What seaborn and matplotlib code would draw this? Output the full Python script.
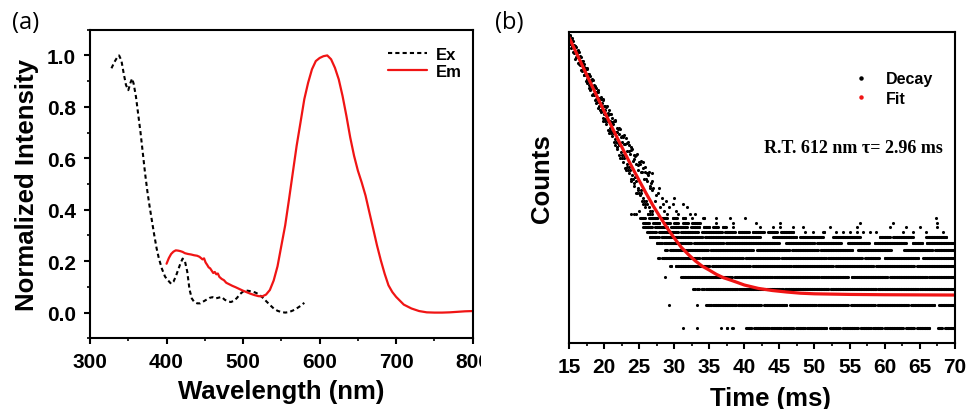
import numpy as np
import pandas as pd
import seaborn as sns
import matplotlib.pyplot as plt
from matplotlib.lines import Line2D
from matplotlib.ticker import MultipleLocator, NullLocator
from matplotlib.transforms import Bbox, TransformedBbox

# ---- (a) excitation / emission spectra ----
ex_nm = [328, 332, 336, 338, 341, 344, 347, 350, 353, 355,
         357, 360, 363, 366, 369, 372, 375, 378, 381, 384,
         387, 390, 394, 398, 402, 406, 409, 412, 415, 418,
         421, 424, 427, 430, 433, 436, 440, 444, 448, 452,
         456, 460, 464, 468, 472, 476, 480, 484, 488, 492,
         496, 500, 504, 508, 512, 516, 520, 525, 530, 535,
         540, 545, 550, 555, 560, 565, 570, 575, 580]
ex_int = [0.95, 0.975, 0.995, 1.0, 0.98, 0.93, 0.885, 0.865, 0.895, 0.91,
          0.89, 0.84, 0.77, 0.70, 0.62, 0.54, 0.47, 0.41, 0.355, 0.30,
          0.25, 0.21, 0.17, 0.14, 0.125, 0.112, 0.12, 0.14, 0.165, 0.19,
          0.21, 0.20, 0.16, 0.09, 0.055, 0.042, 0.036, 0.036, 0.043, 0.05,
          0.057, 0.06, 0.055, 0.058, 0.061, 0.05, 0.044, 0.041, 0.046, 0.057,
          0.072, 0.082, 0.086, 0.084, 0.082, 0.078, 0.072, 0.06, 0.045, 0.03,
          0.016, 0.007, 0.002, 0.0, 0.002, 0.008, 0.016, 0.026, 0.038]

em_nm = [400, 403, 406, 409, 412, 415, 418, 421, 424, 428,
         432, 436, 440, 443, 445, 447, 449, 451, 453, 455,
         457, 459, 461, 463, 465, 467, 469, 472, 475, 478,
         482, 486, 490, 495, 500, 505, 510, 515, 520, 525,
         530, 535, 540, 545, 550, 555, 560, 565, 570, 575,
         580, 585, 590, 595, 600, 605, 610, 615, 620, 625,
         630, 635, 640, 645, 650, 655, 660, 665, 670, 675,
         680, 685, 690, 695, 700, 710, 720, 730, 740, 750,
         760, 770, 780, 790, 800]
em_int = [0.19, 0.212, 0.228, 0.237, 0.242, 0.241, 0.239, 0.236, 0.231, 0.228,
          0.226, 0.223, 0.221, 0.217, 0.212, 0.207, 0.211, 0.195, 0.186, 0.176,
          0.172, 0.163, 0.154, 0.158, 0.149, 0.152, 0.139, 0.131, 0.126, 0.116,
          0.11, 0.104, 0.099, 0.092, 0.085, 0.079, 0.073, 0.068, 0.064, 0.063,
          0.07, 0.088, 0.125, 0.18, 0.26, 0.339, 0.44, 0.545, 0.649, 0.739,
          0.83, 0.894, 0.946, 0.978, 0.99, 0.997, 1.0, 0.985, 0.952, 0.907,
          0.842, 0.765, 0.681, 0.61, 0.552, 0.506, 0.455, 0.39, 0.326, 0.261,
          0.203, 0.151, 0.106, 0.08, 0.061, 0.031, 0.016, 0.006, 0.001, 0.0,
          0.0, 0.001, 0.003, 0.005, 0.006]

# ---- (b) decay: early band, points above / below the fit ----
early_t = [15.0, 15.2, 15.4, 15.6, 15.8, 16.0, 16.2, 16.4, 16.6, 16.8,
           17.0, 17.2, 17.4, 17.6, 17.8, 18.0, 18.2, 18.4, 18.6, 18.8,
           19.0, 19.2, 19.4, 19.6, 19.8, 20.0, 20.2, 20.4, 20.6, 20.8,
           21.0, 21.2, 21.4, 21.6, 21.8, 22.0, 22.2, 22.4, 22.6, 22.8,
           23.0, 23.2, 23.4, 23.6, 23.8, 24.0, 24.2, 24.4, 24.6, 24.8,
           25.0, 25.2, 25.4, 25.6, 25.8, 26.0, 26.2, 26.4, 26.6, 26.8,
           27.0]
early_hi = [359, 354, 327, 324, 297, 289, 262, 265, 243, 226,
            229, 205, 200, 197, 174, 173, 161, 162, 143, 142,
            132, 132, 117, 116, 116, 103, 102, 102, 87, 89,
            89, 77, 78, 78, 65, 68, 69, 59, 60, 61,
            52, 53, 54, 46, 47, 48, 40, 42, 43, 36,
            38, 39, 32, 34, 35, 28, 30, 32, 25, 27,
            24]
early_lo = [335, 305, 299, 268, 266, 244, 244, 215, 213, 192,
            196, 176, 160, 166, 149, 135, 140, 126, 125, 109,
            110, 110, 95, 96, 83, 89, 78, 79, 67, 69,
            63, 66, 54, 57, 50, 53, 43, 45, 41, 43,
            34, 37, 33, 35, 28, 30, 26, 29, 22, 24,
            22, 23, 19, 20, 18, 19, 15, 17, 15, 16,
            14]
odd_t = [15.1, 15.3, 15.5, 15.7, 15.9, 16.1, 16.3, 16.5, 16.7, 16.9,
         17.1, 17.3, 17.5, 17.7, 17.9, 18.1, 18.3, 18.5, 18.7, 18.9,
         19.1, 19.3, 19.5, 19.7, 19.9, 20.1, 20.3, 20.5, 20.7, 20.9,
         21.1, 21.3, 21.5, 21.7, 21.9, 22.1, 22.3, 22.5, 22.7, 22.9,
         23.1, 23.3, 23.5, 23.7, 23.9, 24.1, 24.3, 24.5, 24.7, 24.9,
         25.1, 25.3, 25.5, 25.7, 25.9, 26.1, 26.3, 26.5, 26.7, 26.9]
odd_hi = [360, 326, 339, 302, 297, 266, 277, 247, 243, 218,
          215, 194, 202, 180, 179, 159, 166, 148, 147, 131,
          137, 119, 120, 109, 114, 96, 100, 90, 96, 79,
          83, 74, 80, 65, 69, 62, 68, 54, 59, 52,
          58, 46, 51, 44, 50, 39, 43, 37, 44, 33,
          37, 32, 38, 28, 32, 27, 31, 24, 26, 23]
odd_lo = [316, 284, 294, 264, 237, 246, 221, 223, 194, 195,
          177, 179, 154, 158, 142, 147, 124, 127, 114, 117,
          99, 102, 92, 96, 79, 82, 74, 78, 64, 66,
          60, 63, 51, 54, 48, 51, 41, 43, 38, 41,
          33, 35, 31, 33, 27, 28, 25, 27, 22, 23,
          21, 22, 18, 19, 17, 18, 15, 16, 14, 15]
extra_t = [23.9, 24.3, 24.6, 25.0, 26.1, 26.8, 27.2, 27.4, 27.7, 28.0,
           28.3, 28.6, 28.9, 29.3, 29.8, 30.2, 30.6, 31.3, 31.8, 32.2,
           33.0, 27.9, 28.4, 29.0, 30.0]
extra_c = [15, 15, 15, 16, 31, 31, 19, 21, 22, 17,
           20, 16, 19, 17, 18, 16, 15, 18, 17, 15,
           15, 24, 18, 15, 20]

# tail: counts per level, runs of occupied time channels (ms)
row_levels = [2, 3, 4, 5, 6, 7, 8, 9, 10, 11, 12, 13, 14]
row_runs = [
    [(31.3, 31.3), (33.2, 33.2), (36.7, 36.7), (37.5, 37.6), (38.3, 38.4), (40.3, 41.0),
     (41.4, 43.5), (43.8, 45.2), (45.5, 47.0), (47.4, 48.6), (49.0, 51.7), (52.2, 53.6),
     (54.0, 56.2), (56.6, 58.0), (58.4, 59.6), (60.0, 62.6), (63.1, 64.2), (64.6, 66.4),
     (67.6, 68.2), (68.6, 69.8)],
    [(29.2, 29.2), (33.2, 33.2), (34.6, 35.3), (35.6, 38.8), (39.1, 42.4), (42.8, 46.0),
     (46.5, 50.2), (50.5, 54.8), (55.2, 58.6), (59.0, 63.4), (63.8, 67.1), (67.8, 69.8)],
    [(32.7, 32.9), (33.3, 33.5), (33.9, 34.2), (34.6, 39.0), (39.3, 45.5), (45.8, 52.0),
     (52.3, 58.8), (59.1, 64.7), (65.0, 69.8)],
    [(28.7, 28.7), (31.0, 36.5), (36.9, 38.2), (38.6, 44.0), (44.3, 50.6), (51.0, 54.8),
     (55.3, 60.4), (60.8, 66.0), (66.4, 69.8)],
    [(29.4, 29.6), (30.2, 35.0), (35.4, 40.8), (41.2, 46.6), (47.0, 52.6), (53.0, 58.4),
     (58.8, 64.2), (64.6, 69.8)],
    [(27.7, 27.9), (28.3, 33.6), (34.0, 39.8), (40.2, 44.9), (45.3, 51.6), (52.0, 56.8),
     (57.2, 59.2), (60.0, 64.8), (65.5, 69.8)],
    [(28.7, 29.0), (29.4, 34.8), (35.2, 41.2), (41.8, 46.4), (46.8, 50.5), (50.9, 55.4),
     (56.2, 60.9), (62.8, 66.8), (67.2, 69.8)],
    [(27.5, 28.2), (28.6, 32.4), (32.8, 37.0), (37.4, 44.9), (46.0, 50.0), (50.4, 53.8),
     (54.8, 57.8), (58.6, 63.0), (64.0, 65.4), (66.0, 69.8)],
    [(26.5, 27.8), (28.2, 34.0), (34.4, 42.2), (44.1, 47.4), (48.0, 51.2), (52.7, 56.5),
     (59.3, 60.7), (61.2, 64.0), (65.9, 68.8)],
    [(26.1, 27.4), (27.9, 30.5), (31.0, 33.4), (34.0, 36.8), (37.3, 38.6), (39.2, 40.6),
     (41.2, 42.8), (43.4, 44.6), (45.2, 47.0), (48.6, 48.6), (49.8, 49.8), (51.2, 51.4),
     (53.1, 53.1), (54.1, 54.1), (55.0, 55.0), (56.0, 56.0), (56.9, 56.9), (57.9, 57.9),
     (58.8, 58.8), (62.6, 62.6), (64.0, 64.0), (65.9, 65.9), (68.3, 68.3)],
    [(25.6, 26.8), (27.3, 29.0), (29.6, 31.8), (32.4, 33.6), (34.2, 35.0), (35.6, 36.2),
     (36.9, 37.4), (38.4, 38.4), (42.2, 42.2), (44.1, 44.1), (45.1, 45.1), (47.0, 47.0),
     (48.4, 48.4), (52.2, 52.2), (56.0, 56.0), (60.7, 60.7), (63.1, 63.1), (65.0, 65.0),
     (67.4, 67.4)],
    [(25.6, 26.4), (27.0, 27.9), (28.5, 29.4), (30.0, 30.5), (31.3, 31.9), (32.6, 33.7),
     (36.0, 36.0), (38.4, 38.4), (41.7, 41.7), (45.1, 45.1), (56.5, 56.5), (61.2, 61.2),
     (67.4, 67.4)],
    [(25.1, 25.8), (26.4, 27.6), (28.2, 29.0), (29.8, 30.4), (31.2, 31.6), (32.6, 32.6),
     (34.1, 34.3), (36.0, 36.0), (37.9, 37.9), (40.1, 40.1), (67.3, 67.3)],
]
channel = 0.1  # ms per time channel

fit_t = [15, 16, 17, 18, 19, 20, 21, 22, 23, 24, 25, 26, 27, 28, 29, 30, 31, 32, 33, 34,
         35, 36, 37, 38, 39, 40, 42, 44, 46, 48, 50, 55, 60, 65, 70]
fit_c = [345.6, 265.6, 204.3, 157.2, 121.2, 93.8, 72.6, 56.5, 44.1, 34.6,
         27.4, 21.8, 17.5, 14.3, 11.8, 9.9, 8.4, 7.4, 6.6, 6.0,
         5.6, 5.2, 4.9, 4.7, 4.5, 4.3, 4.05, 3.9, 3.8, 3.72,
         3.68, 3.64, 3.62, 3.61, 3.6]

# build the decay table
tt = early_t + early_t + odd_t + odd_t + extra_t
cc = early_hi + early_lo + odd_hi + odd_lo + extra_c
for lev, runs in zip(row_levels, row_runs):
    for a, b in runs:
        ts = np.arange(a, b + 1e-6, channel)
        tt.extend(ts)
        cc.extend([lev] * len(ts))
decay = pd.DataFrame({"t": tt, "counts": cc})

sns.set_style("ticks")
plt.rcParams["font.family"] = ["Liberation Sans", "DejaVu Sans"]
plt.rcParams["font.weight"] = "bold"
plt.rcParams["axes.labelweight"] = "bold"
for k in ["text.color", "axes.labelcolor", "xtick.color", "ytick.color", "axes.edgecolor"]:
    plt.rcParams[k] = "black"

fig = plt.figure(figsize=(9.68, 4.10), dpi=100)
ax1 = fig.add_axes([0.0930, 0.1724, 0.3953, 0.7527])
ax2 = fig.add_axes([0.5878, 0.1610, 0.3985, 0.7578])

# panel (a)
sns.lineplot(x=ex_nm, y=ex_int, ax=ax1, color="black", linewidth=1.5, linestyle="--",
             errorbar=None, sort=False)
sns.lineplot(x=em_nm, y=em_int, ax=ax1, color="#f01414", linewidth=1.6,
             errorbar=None, sort=False)
ex_line, em_line = ax1.lines[0], ax1.lines[1]
ex_line.set_dashes((2.0, 1.5))
ax1.set_xlim(300, 800)
ax1.set_ylim(-0.1, 1.1)
ax1.xaxis.set_major_locator(MultipleLocator(100))
ax1.xaxis.set_minor_locator(MultipleLocator(50))
ax1.yaxis.set_major_locator(MultipleLocator(0.2))
ax1.yaxis.set_minor_locator(MultipleLocator(0.1))
ax1.set_xlabel("Wavelength (nm)", fontsize=18.5)
ax1.set_ylabel("Normalized Intensity", fontsize=18.5)
ax1.xaxis.set_label_coords(0.5, -0.132)
ax1.yaxis.set_label_coords(-0.133, 0.5)
ax1.legend([ex_line, em_line], ["Ex", "Em"], loc="upper left", bbox_to_anchor=(0.779, 0.945),
           frameon=False, borderpad=0, borderaxespad=0, handlelength=2.35, handletextpad=0.5,
           labelspacing=0.15, prop={"weight": "bold", "size": 12})

# panel (b)
sns.scatterplot(data=decay, x="t", y="counts", ax=ax2, color="black", s=5, linewidth=0,
                marker="o", legend=False)
sns.lineplot(x=fit_t, y=fit_c, ax=ax2, color="#f01414", linewidth=2.3, errorbar=None, sort=False)
ax2.set_yscale("log")
ax2.set_xlim(15, 70)
ax2.set_ylim(1.54, 378)
ax2.yaxis.set_major_locator(NullLocator())
ax2.yaxis.set_minor_locator(NullLocator())
ax2.xaxis.set_major_locator(MultipleLocator(5))
ax2.xaxis.set_minor_locator(MultipleLocator(2.5))
ax2.set_xlabel("Time (ms)", fontsize=18.5)
ax2.set_ylabel("Counts", fontsize=18.5)
ax2.xaxis.set_label_coords(0.521, -0.137)
ax2.yaxis.set_label_coords(-0.040, 0.531)
handles = [Line2D([], [], marker="o", markersize=2.2, color="black", linestyle="none"),
           Line2D([], [], marker="o", markersize=2.2, color="#f01414", linestyle="none")]
ax2.legend(handles, ["Decay", "Fit"], loc="upper left", bbox_to_anchor=(0.7265, 0.875),
           frameon=False, borderpad=0, borderaxespad=0, handlelength=1.5, handletextpad=0.8,
           labelspacing=0.3, prop={"weight": "bold", "size": 11.5})
ax2.text(0.5056, 0.614, "R.T. 612 nm \u03c4= 2.96 ms", transform=ax2.transAxes,
         family=["Liberation Serif", "DejaVu Serif"], fontweight="bold", fontsize=13,
         va="baseline")

for ax in (ax1, ax2):
    for sp in ax.spines.values():
        sp.set_linewidth(1.5)
    ax.tick_params(which="major", direction="out", length=4, width=1.5, labelsize=15,
                   pad=6, top=False, right=False)
    ax.tick_params(which="minor", direction="out", length=2.5, width=1.2, top=False, right=False)

# the composite crops panel (a) just after "80"
clip = TransformedBbox(Bbox([[0, 0], [481 / 968, 1]]), fig.transFigure)
for lbl in ax1.get_xticklabels():
    lbl.set_clip_box(clip)
    lbl.set_clip_on(True)

fig.text(12 / 968, 1 - 11 / 410, "(a)", family=["Open Sans", "DejaVu Sans"], fontweight="normal",
         fontsize=17, va="top", ha="left")
fig.text(495 / 968, 1 - 11 / 410, "(b)", family=["Open Sans", "DejaVu Sans"], fontweight="normal",
         fontsize=17, va="top", ha="left")

fig.savefig("out.png", dpi=100)
